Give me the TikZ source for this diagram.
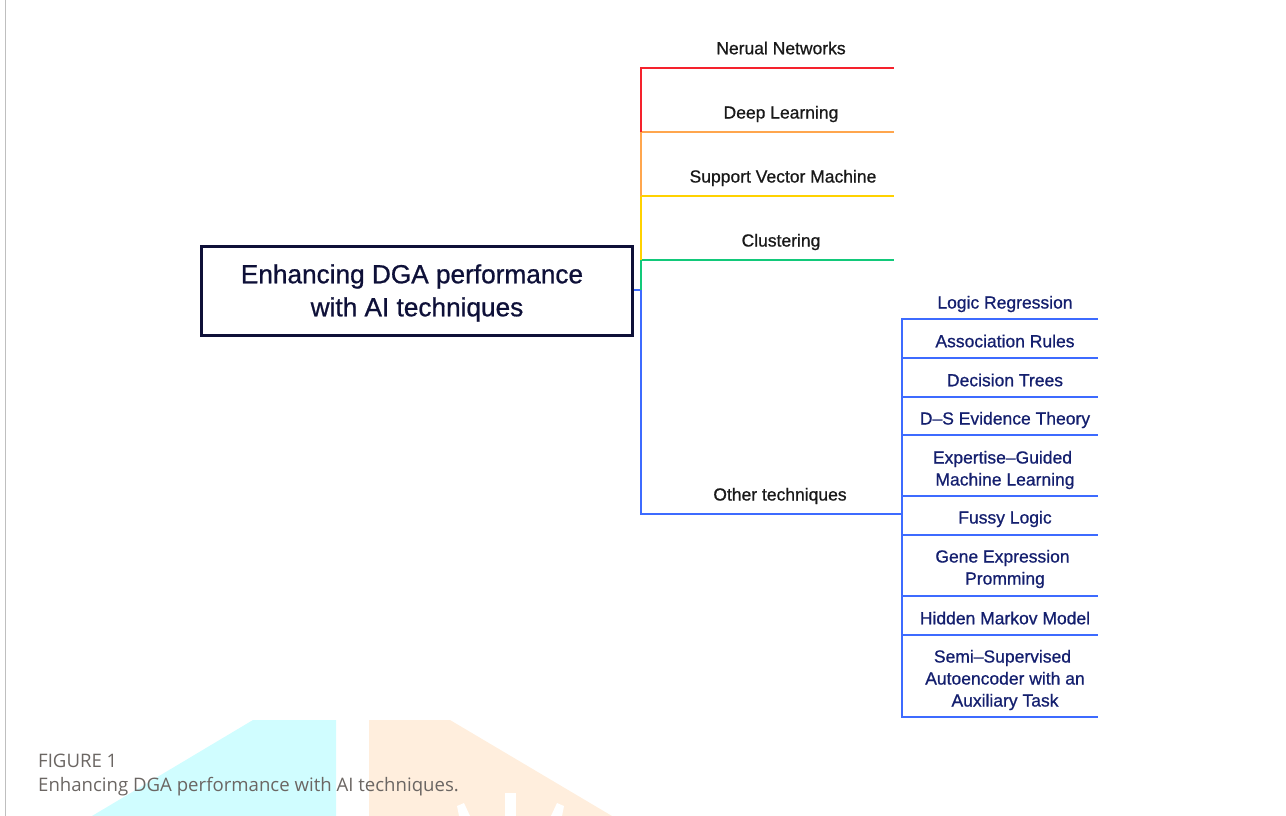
\documentclass[tikz,border=0pt]{standalone}
\usepackage{fontspec}
\setmainfont{Liberation Sans}
\newfontfamily\medfont[FakeBold=0.8]{Liberation Sans}
\newfontfamily\capfont{Open Sans}
\definecolor{cred}{HTML}{F5222D}
\definecolor{corange}{HTML}{FFA64D}
\definecolor{cyellow}{HTML}{FFD200}
\definecolor{cgreen}{HTML}{12C97A}
\definecolor{cblue}{HTML}{3D6BFF}
\definecolor{cnavy}{HTML}{141F6E}
\definecolor{ctitle}{HTML}{0E1038}
\definecolor{wmcyan}{HTML}{D0FDFF}
\definecolor{wmorange}{HTML}{FFEEDD}
\definecolor{captxt}{HTML}{6B6663}
\tikzset{
  lab/.style={font=\medfont\fontsize{17.5}{22}\selectfont, text=black!90, align=center, inner sep=0pt},
  sub/.style={font=\medfont\fontsize{17.5}{22}\selectfont, text=cnavy, align=center, inner sep=0pt},
  conn/.style={line width=2pt, line cap=butt, line join=miter},
  captext/.style={font=\capfont\fontsize{18.6}{24}\selectfont, text=captxt, anchor=base west, inner sep=0pt},
}
\begin{document}
\begin{tikzpicture}[x=1pt,y=-1pt]
\useasboundingbox (0,0) rectangle (1286,816);
% watermark
\fill[wmcyan] (253,720) -- (336,720) -- (336,816) -- (92,816) -- cycle;
\fill[wmorange] (369,720) -- (450,720) -- (612,816) -- (369,816) -- cycle;
\fill[white] (457,806) -- (464,803) -- (470,816) -- (459,816) -- cycle;
\fill[white] (505,793) rectangle (516,816);
\fill[white] (551,816) -- (557,803) -- (564,806) -- (562,816) -- cycle;
\draw[line width=1.2pt, black!25] (5.5,0) -- (5.5,816);
% central box
\node[draw=ctitle, line width=2.4pt, minimum width=431pt, minimum height=89pt, inner sep=0pt] (root) at (417,291) {};
\node[inner sep=0pt, font=\medfont\fontsize{26.2}{33}\selectfont, text=ctitle, align=center] (roott) at (412,293) {Enhancing DGA performance\\\hspace*{10pt}with AI techniques};
% junctions
\coordinate (j0) at (641,290);
\coordinate (s1) at (641,68);  \coordinate (e1) at (894,68);
\coordinate (s2) at (641,132); \coordinate (e2) at (894,132);
\coordinate (s3) at (641,196); \coordinate (e3) at (894,196);
\coordinate (s4) at (641,260); \coordinate (e4) at (894,260);
\coordinate (s5) at (641,514); \coordinate (e5) at (902,514);
% branches (bottom-up so the upper colours stay clear)
\draw[conn,cblue] (root.east |- j0) -- (j0) -- (s5) -- (e5);
\draw[conn,cgreen] (j0) -- (s4) -- (e4);
\draw[conn,cyellow] (s4) -- (s3) -- (e3);
\draw[conn,corange] (s3) -- (s2) -- (e2);
\draw[conn,cred] (s2) -- (s1) -- (e1);
\node[lab] (n1) at (781,48) {Nerual Networks};
\node[lab] (n2) at (781,114) {Deep Learning};
\node[lab] (n3) at (783,178) {Support Vector Machine};
\node[lab] (n4) at (781,242) {Clustering};
\node[lab] (n5) at (780,496) {Other techniques};
% sub branches
\coordinate (t1) at (902,319); \coordinate (r1) at (1098,319);
\coordinate (t2) at (902,358); \coordinate (r2) at (1098,358);
\coordinate (t3) at (902,397); \coordinate (r3) at (1098,397);
\coordinate (t4) at (902,435); \coordinate (r4) at (1098,435);
\coordinate (t5) at (902,496); \coordinate (r5) at (1098,496);
\coordinate (t6) at (902,535); \coordinate (r6) at (1098,535);
\coordinate (t7) at (902,596); \coordinate (r7) at (1098,596);
\coordinate (t8) at (902,635); \coordinate (r8) at (1098,635);
\coordinate (t9) at (902,717); \coordinate (r9) at (1098,717);
\draw[conn,cblue] (r1) -- (t1) -- (t9) -- (r9);
\foreach \i in {2,...,8} \draw[conn,cblue] (t\i) -- (r\i);
\node[sub] (m1) at (1005,304) {Logic Regression};
\node[sub] (m2) at (1005,341) {Association Rules};
\node[sub] (m3) at (1005,380) {Decision Trees};
\node[sub] (m4) at (1005,420) {D–S Evidence Theory};
\node[sub] (m5) at (1005,470) {Expertise–Guided\hspace*{5pt}\\Machine Learning};
\node[sub] (m6) at (1005,519) {Fussy Logic};
\node[sub] (m7) at (1005,569) {Gene Expression\hspace*{5pt}\\Promming};
\node[sub] (m8) at (1005,618) {Hidden Markov Model};
\node[sub] (m9) at (1005,680) {Semi–Supervised\hspace*{5pt}\\Autoencoder with an\hspace*{5pt}\\Auxiliary Task};
% caption
\node[captext] (c1) at (38,767) {FIGURE 1};
\node[captext] (c2) at (38,791) {Enhancing DGA performance with AI techniques.};
\end{tikzpicture}
\end{document}
